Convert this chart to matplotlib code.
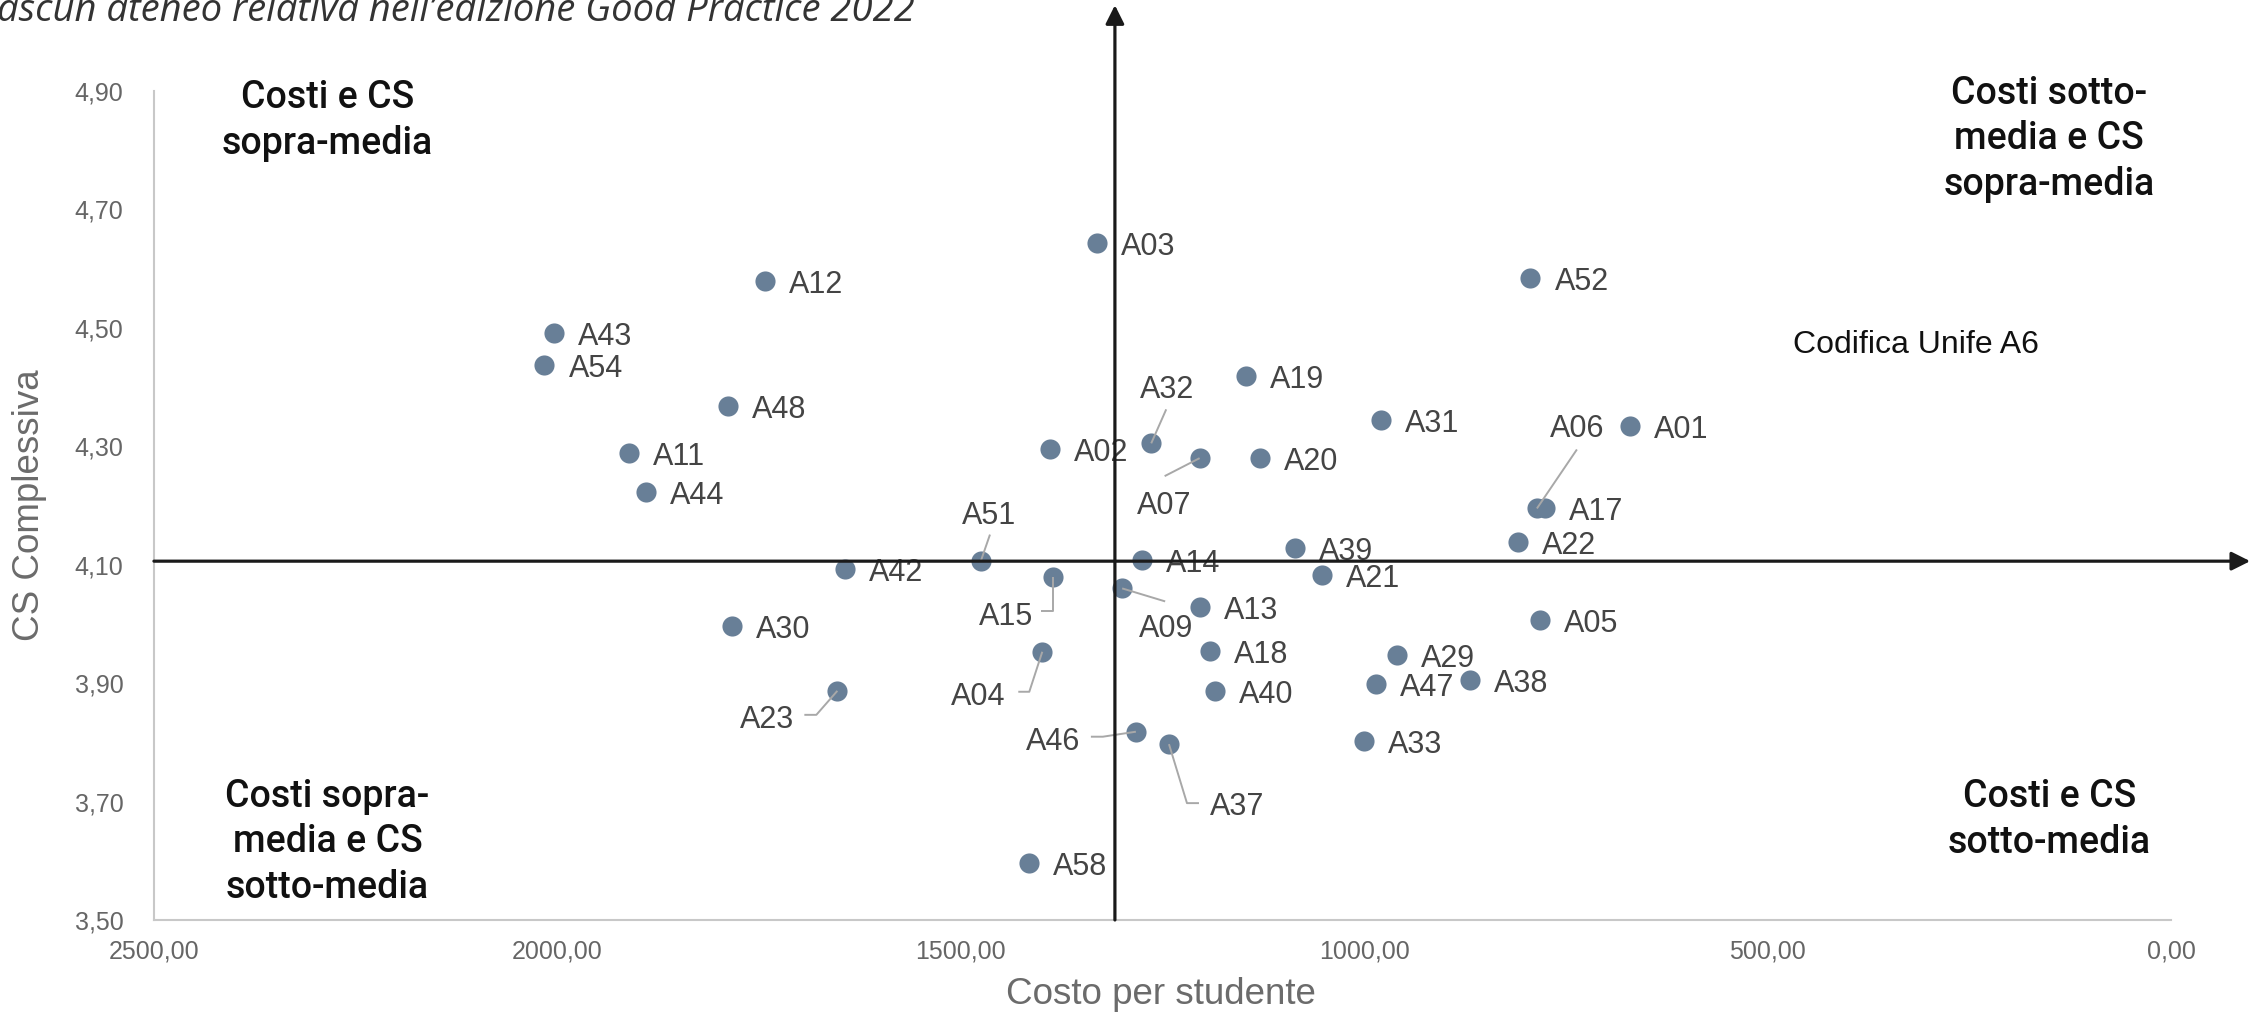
import matplotlib
matplotlib.use('Agg')
import matplotlib.pyplot as plt
import numpy as np
from matplotlib.ticker import FuncFormatter

# universities: cost per student vs overall satisfaction (CS)
codes = ['A03', 'A12', 'A43', 'A54', 'A48', 'A11', 'A44', 'A02', 'A32', 'A07',
         'A20', 'A19', 'A31', 'A52', 'A01', 'A06', 'A17', 'A22', 'A51', 'A42',
         'A15', 'A14', 'A39', 'A21', 'A09', 'A13', 'A05', 'A30', 'A04', 'A18',
         'A29', 'A47', 'A38', 'A40', 'A23', 'A46', 'A37', 'A33', 'A58']
cost = [1331, 1743, 2004, 2016, 1789, 1911, 1890, 1390, 1264, 1204,
        1129, 1146, 979, 794, 671, 786, 776, 809, 1475, 1643,
        1386, 1275, 1086, 1052, 1300, 1204, 782, 1784, 1399, 1191,
        959, 985, 869, 1185, 1653, 1283, 1242, 1000, 1415]
cs = [4.644, 4.580, 4.491, 4.438, 4.368, 4.288, 4.222, 4.296, 4.305, 4.280,
      4.281, 4.419, 4.345, 4.585, 4.334, 4.195, 4.195, 4.139, 4.107, 4.093,
      4.080, 4.108, 4.128, 4.082, 4.060, 4.029, 4.006, 3.997, 3.953, 3.954,
      3.947, 3.898, 3.905, 3.886, 3.887, 3.818, 3.797, 3.802, 3.597]

mean_cost = 1309
mean_cs = 4.106

x_ticks = [2500, 2000, 1500, 1000, 500, 0]
y_ticks = [3.5, 3.7, 3.9, 4.1, 4.3, 4.5, 4.7, 4.9]

title = "ascun ateneo relativa nell\u2019edizione Good Practice 2022"
note = "Codifica Unife A6"

# labels that sit away from their dot: text offset (px) and leader path (px)
callouts = {
    'A32': ((16, 45), [(0, 0), (15, 34)]),
    'A07': ((-35, -56), [(0, 0), (-35, -18)]),
    'A51': ((8, 37), [(0, 0), (9, 26)]),
    'A15': ((-47, -48), [(0, 0), (0, -34), (-12, -34)]),
    'A09': ((44, -49), [(0, 0), (43, -13)]),
    'A04': ((-64, -53), [(0, 0), (-13, -40), (-24, -40)]),
    'A23': ((-70, -37), [(0, 0), (-21, -24), (-33, -24)]),
    'A46': ((-83, -18), [(0, 0), (-33, -5), (-45, -5)]),
    'A37': ((68, -71), [(0, 0), (18, -59), (30, -59)]),
    'A06': ((40, 71), [(0, 0), (40, 59)]),
}

plt.rcParams['font.family'] = ['Liberation Sans', 'DejaVu Sans']

fig = plt.figure(figsize=(22.67, 10.16), dpi=100)
ax = fig.add_axes([0.0679, 0.0945, 0.8898, 0.8159])
ax.set_xlim(2500, 0)
ax.set_ylim(3.5, 4.9)

for s in ['top', 'right']:
    ax.spines[s].set_visible(False)
for s in ['left', 'bottom']:
    ax.spines[s].set_color('#c8c8c8')
    ax.spines[s].set_linewidth(1.5)

ax.set_xticks(x_ticks)
ax.set_yticks(y_ticks)
fmt = FuncFormatter(lambda v, p: f'{v:.2f}'.replace('.', ','))
ax.xaxis.set_major_formatter(fmt)
ax.yaxis.set_major_formatter(fmt)
ax.tick_params(axis='both', length=0, labelsize=18, labelcolor='#666666')
ax.tick_params(axis='x', pad=14)
ax.tick_params(axis='y', pad=22)

ax.scatter(cost, cs, s=210, color='#687f97', linewidths=0, zorder=3)

for code, x, y in zip(codes, cost, cs):
    if code in callouts:
        (dx, dy), path = callouts[code]
        ax.annotate(code, (x, y), xytext=(dx, dy), textcoords='offset pixels',
                    ha='center', va='baseline', fontsize=22, color='#444444', zorder=4)
        p = ax.transData.transform((x, y)) + np.array(path, dtype=float)
        d = ax.transData.inverted().transform(p)
        ax.plot(d[:, 0], d[:, 1], color='#a8a8a8', lw=1.4, zorder=4,
                solid_capstyle='butt')
    else:
        ax.annotate(code, (x, y), xytext=(24, -12), textcoords='offset pixels',
                    ha='left', va='baseline', fontsize=22, color='#444444', zorder=4)

# mean lines with arrows
arrow = dict(arrowstyle='-|>', color='#1a1a1a', lw=2.3, mutation_scale=28,
             shrinkA=0, shrinkB=0)
ax.annotate('', xy=(-98, mean_cs), xytext=(2500, mean_cs), arrowprops=arrow,
            annotation_clip=False, zorder=5)
ax.annotate('', xy=(mean_cost, 5.045), xytext=(mean_cost, 3.5), arrowprops=arrow,
            annotation_clip=False, zorder=5)

qfont = dict(fontsize=27, color='#111111', ha='center', va='center',
             multialignment='center', linespacing=1.3,
             family=['Roboto', 'DejaVu Sans'], fontweight='medium')
ax.text(2285, 4.850, 'Costi e CS\nsopra-media', **qfont)
ax.text(151, 4.819, 'Costi sotto-\nmedia e CS\nsopra-media', **qfont)
ax.text(2285, 3.632, 'Costi sopra-\nmedia e CS\nsotto-media', **qfont)
ax.text(151, 3.670, 'Costi e CS\nsotto-media', **qfont)

fig.text(0.791, 0.66, note, fontsize=23, color='#111111', ha='left', va='center')

fig.text(0.0128, 0.503, 'CS Complessiva', rotation=90, fontsize=26.5,
         color='#6b6b6b', ha='center', va='center')
fig.text(0.512, 0.0207, 'Costo per studente', fontsize=26.5,
         color='#6b6b6b', ha='center', va='center')

fig.text(-0.0015, 1 - 21 / 1016, title, fontsize=27.5, style='italic',
         color='#333333', ha='left', va='baseline',
         family=['Open Sans', 'DejaVu Sans'])

fig.savefig('out.png', dpi=100)
